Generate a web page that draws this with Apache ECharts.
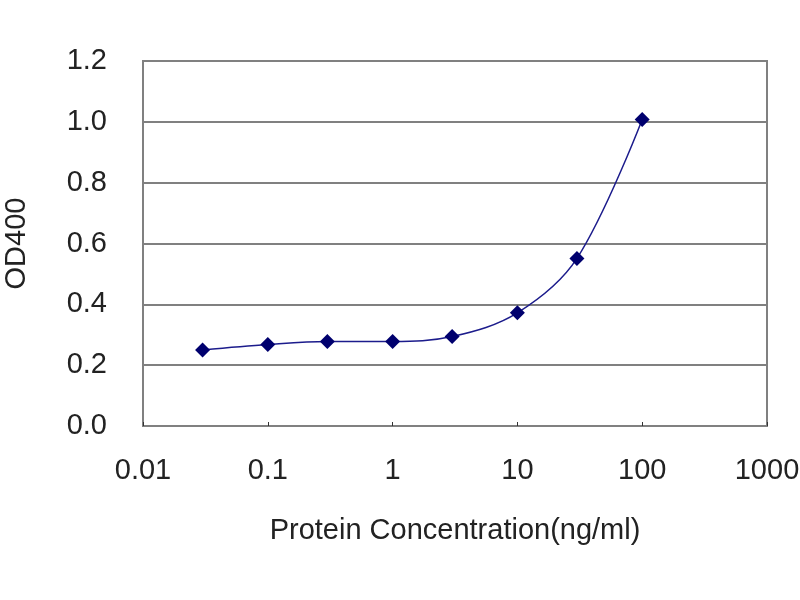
<!DOCTYPE html>
<html>
<head>
<meta charset="utf-8">
<script src="https://cdn.jsdelivr.net/npm/echarts@6/dist/echarts.min.js"></script>
<style>
html,body{margin:0;padding:0;background:#fff;}
#chart{width:800px;height:600px;}
</style>
</head>
<body>
<div id="chart"></div>
<script>
// 浓度 (ng/ml) 和 OD400 读数
var concentration = [0.03, 0.1, 0.3, 1, 3, 10, 30, 100];
var od400 = [0.250, 0.268, 0.278, 0.278, 0.294, 0.372, 0.551, 1.008];
var xTicks = [0.01, 0.1, 1, 10, 100, 1000];
var yTicks = [0, 0.2, 0.4, 0.6, 0.8, 1.0, 1.2];

var points = [];
for (var i = 0; i < concentration.length; i++) {
    points.push([concentration[i], od400[i]]);
}

var myChart = echarts.init(document.getElementById('chart'));
myChart.setOption({
    backgroundColor: '#fff',
    animation: false,
    grid: {
        left: 143, right: 33, top: 61, bottom: 174,
        outerBoundsMode: 'none',
        show: true, borderColor: '#808080', borderWidth: 2
    },
    xAxis: {
        type: 'log',
        logBase: 10,
        min: xTicks[0],
        max: xTicks[xTicks.length - 1],
        name: 'Protein Concentration(ng/ml)',
        nameLocation: 'middle',
        nameGap: 90,
        nameTextStyle: {fontFamily: 'Liberation Sans', fontSize: 29, color: '#222'},
        axisLine: {lineStyle: {color: '#808080', width: 2}},
        axisTick: {inside: true, length: 4, lineStyle: {color: '#333'}},
        splitLine: {show: false},
        axisLabel: {
            fontFamily: 'Liberation Sans', fontSize: 29, color: '#222', margin: 30,
            formatter: function (v) {
                var best = xTicks[0];
                for (var k = 0; k < xTicks.length; k++) {
                    if (Math.abs(Math.log10(v) - Math.log10(xTicks[k])) < 0.01) best = xTicks[k];
                }
                return String(best);
            }
        }
    },
    yAxis: {
        type: 'value',
        min: yTicks[0],
        max: yTicks[yTicks.length - 1],
        interval: 0.2,
        name: 'OD400',
        nameLocation: 'middle',
        nameGap: 112,
        nameTextStyle: {fontFamily: 'Liberation Sans', fontSize: 29, color: '#222'},
        axisLine: {show: true, lineStyle: {color: '#808080', width: 2}},
        axisTick: {show: false},
        splitLine: {lineStyle: {color: '#808080', width: 2}},
        axisLabel: {
            fontFamily: 'Liberation Sans', fontSize: 29, color: '#222', margin: 36,
            formatter: function (v) { return v.toFixed(1); }
        }
    },
    series: [{
        type: 'line',
        data: points,
        smooth: 0.35,
        symbol: 'diamond',
        symbolSize: 15,
        itemStyle: {color: '#00006e'},
        lineStyle: {color: '#1c1c8c', width: 1.5}
    }]
});
</script>
</body>
</html>
